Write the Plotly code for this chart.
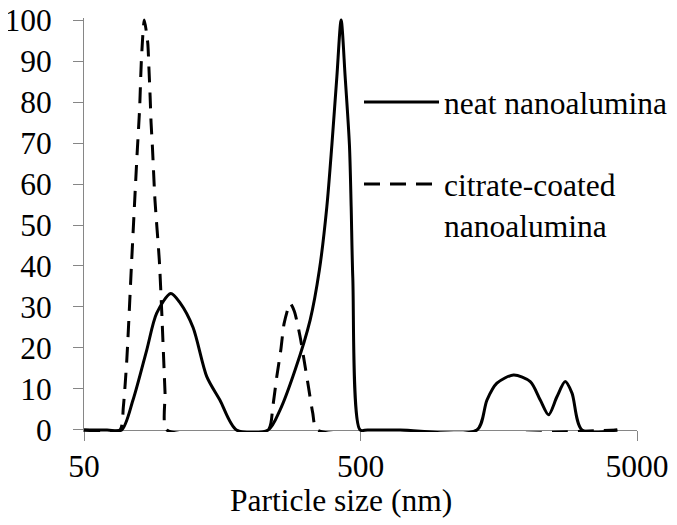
import plotly.graph_objects as go

# Particle size (nm) and intensity readings
neat_size = [50, 60.6, 68.4, 75.2, 84.3, 91.6, 103, 111.3, 124, 139, 155, 178,
             231.7, 256, 290, 328.7, 355, 377.8, 393.9, 410.7, 425.5, 440, 456, 462.6, 469, 498,
             530, 696, 1318, 1433, 1557, 1789, 2056, 2234, 2394, 2567, 2751, 2910, 3162, 4243]
neat_value = [0, 0, 0, 7.3, 19.5, 28.5, 33.3, 31, 25, 13, 7.3, 0,
              0, 4.9, 14.6, 26.8, 39, 54.5, 69.5, 86.2, 100, 86.2, 69.5, 54.5, 37, 0,
              0, 0, 0, 7.3, 11.4, 13.4, 11.8, 7.3, 3.7, 8.1, 11.8, 9, 0, 0]

citrate_size = [50, 67.5, 69.4, 71.4, 74.4, 77.6, 79.5, 80.6, 82.6, 85.0, 85.9, 86.7,
                87.4, 88.4, 90.3, 93.6, 95.5, 98.2, 99.6,
                231.7, 240.9, 249, 257.5, 264.7, 278.3, 288.4, 302.3, 312.6, 324, 336, 348.4, 4243]
citrate_value = [0, 0, 5.7, 17, 41.5, 65.9, 78.8, 90, 100, 94.5, 88, 81.5,
                 75, 69, 56, 41.5, 29, 9, 0,
                 0, 5.7, 13, 19.5, 26, 30.9, 28.9, 22.8, 17, 10.6, 4.1, 0, 0]

x_ticks = [50, 500, 5000]
y_ticks = list(range(0, 101, 10))

FONT = "'Liberation Serif', serif"
FS = 31.5
GREY = "#868686"

# the page places the figure at an 8px body margin
W, H = 669, 517
L, T = 76, 10
R = W - 629
B = H - 424

fig = go.Figure()
fig.add_trace(go.Scatter(
    x=neat_size, y=neat_value, mode="lines", name="neat nanoalumina",
    line=dict(color="black", width=3, shape="spline", smoothing=0.8),
    legendgroup="a"))
fig.add_trace(go.Scatter(
    x=citrate_size, y=citrate_value, mode="lines", name="citrate-coated<br>nanoalumina",
    line=dict(color="black", width=3, dash="16px,10px", shape="spline", smoothing=0.6),
    legendgroup="b"))

fig.update_layout(
    template="none",
    width=W, height=H,
    margin=dict(l=L, r=R, t=T, b=B, autoexpand=False),
    paper_bgcolor="white", plot_bgcolor="white",
    font=dict(family=FONT, size=FS, color="black"),
    showlegend=True,
    legend=dict(x=0.4973, y=0.862, xanchor="left", yanchor="top",
                valign="top", tracegroupgap=38, traceorder="grouped",
                itemwidth=75,
                bgcolor="rgba(0,0,0,0)", font=dict(family=FONT, size=FS, color="black")),
    xaxis=dict(type="log", range=[1.69897, 3.69897],
               tickvals=x_ticks, ticktext=[str(v) for v in x_ticks],
               tickfont=dict(family=FONT, size=FS, color="black"),
               showline=True, linecolor=GREY, linewidth=1,
               ticks="outside", ticklen=10, tickcolor=GREY, tickwidth=1,
               showgrid=False, zeroline=False, automargin=False,
               anchor="free", position=0.5 / 101, layer="below traces",
               ticklabelstandoff=-2, ticklabeloverflow="allow"),
    yaxis=dict(range=[-0.5, 100.5], tickvals=y_ticks,
               tickfont=dict(family=FONT, size=FS, color="black"),
               showline=True, linecolor=GREY, linewidth=1,
               ticks="outside", ticklen=10, tickcolor=GREY, tickwidth=1,
               showgrid=False, zeroline=False, layer="below traces",
               automargin=False, ticklabelstandoff=15, ticklabeloverflow="allow"),
    annotations=[dict(text="Particle size (nm)", xref="paper", yref="paper",
                      x=0.4647, y=-0.1643,
                      xanchor="center", yanchor="middle", showarrow=False,
                      font=dict(family=FONT, size=FS, color="black"))],
)

fig.write_html("out.html")
